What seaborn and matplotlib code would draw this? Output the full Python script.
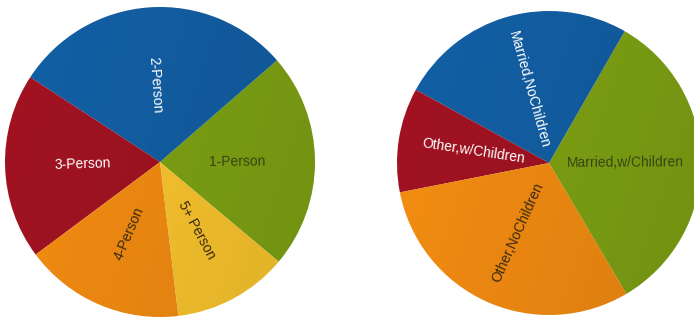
import numpy as np
import matplotlib
matplotlib.use("Agg")
import matplotlib.pyplot as plt
from matplotlib.patches import Circle
import seaborn as sns

# household size shares (%)
size_labels = ["1-Person", "2-Person", "3-Person", "4-Person", "5+ Person"]
size_values = [22.5, 29.4, 19.4, 16.7, 12.0]

# household type shares (%)
type_labels = ["Married,w/Children", "Married,NoChildren", "Other,w/Children", "Other,NoChildren"]
type_values = [33.2, 25.3, 11.1, 30.4]

green, blue, red, orange, yellow = "#80a514", "#1360a6", "#a31322", "#f68e12", "#fdc82e"
size_colors = [green, blue, red, orange, yellow]
type_colors = [green, blue, red, orange]
size_text = ["#3a4512", "white", "white", "#3a2a10", "#3a2a10"]
type_text = ["#3a4512", "white", "white", "#3a2a10"]

sns.set_theme(style="white")
plt.rcParams["font.family"] = ["Liberation Sans", "DejaVu Sans"]

W, H = 694, 320
fig = plt.figure(figsize=(W / 100, H / 100), dpi=100)

# soft left to right shading laid over each pie
gx, gy = np.meshgrid(np.linspace(-1, 1, 200), np.linspace(1, -1, 200))
shade = np.zeros((200, 200, 4))
shade[..., 3] = np.clip((1.5 * gx - 0.5 * gy) / 4.0 + 0.5, 0, 1) * 0.12


def draw_pie(cx, cy, r, values, labels, colors, text_colors, start):
    ax = fig.add_axes([(cx - r) / W, (H - cy - r) / H, 2 * r / W, 2 * r / H])
    wedges, _ = ax.pie(values, colors=colors, startangle=start, counterclock=True,
                       wedgeprops=dict(linewidth=0),
                       shadow=dict(ox=2, oy=-2, facecolor="#777777", edgecolor="none", alpha=0.45))
    img = ax.imshow(shade, extent=(-1, 1, -1, 1), zorder=2)
    img.set_clip_path(Circle((0, 0), 1, transform=ax.transData))
    for w, lab, tc in zip(wedges, labels, text_colors):
        mid = (w.theta1 + w.theta2) / 2
        x, y = 0.5 * np.cos(np.radians(mid)), 0.5 * np.sin(np.radians(mid))
        rot = mid + (0 if x > 0 else 180)
        ax.text(x, y, lab, ha="center", va="center", rotation=rot,
                rotation_mode="anchor", color=tc, fontsize=10, zorder=3)
    ax.set_xlim(-1, 1)
    ax.set_ylim(-1, 1)
    ax.axis("off")
    return ax


draw_pie(160, 162, 155, size_values, size_labels, size_colors, size_text, -40)
draw_pie(549, 163, 152, type_values, type_labels, type_colors, type_text, -59.4)

fig.savefig("out.png", dpi=100)
